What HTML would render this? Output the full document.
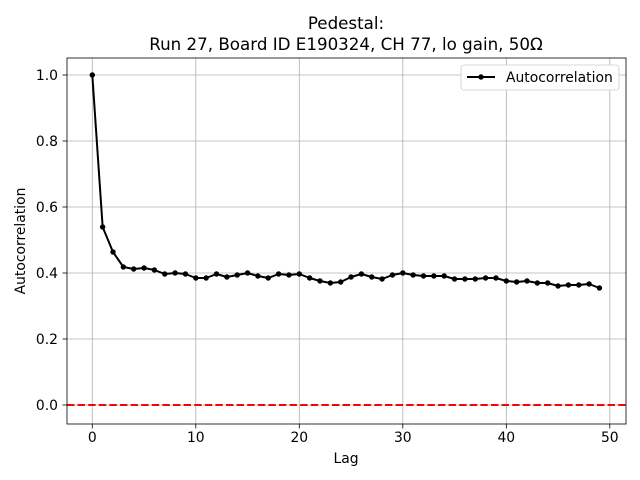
<!DOCTYPE html>
<html><head><meta charset="utf-8"><style>body{margin:0;background:#fff}svg{display:block;font-family:"DejaVu Sans","Liberation Sans",sans-serif}</style></head><body>
<svg width="640" height="480" viewBox="0 0 640 480" xmlns="http://www.w3.org/2000/svg">
<defs><marker id="dot" viewBox="-3 -3 6 6" refX="0" refY="0" markerWidth="6" markerHeight="6" markerUnits="userSpaceOnUse"><circle cx="0" cy="0" r="2.7" fill="#000"/></marker></defs>
<rect width="640" height="480" fill="#fff"/>
<g stroke="#b0b0b0" stroke-width="0.8">
<line x1="92.3" y1="58" x2="92.3" y2="424"/><line x1="195.8" y1="58" x2="195.8" y2="424"/><line x1="299.3" y1="58" x2="299.3" y2="424"/><line x1="402.8" y1="58" x2="402.8" y2="424"/><line x1="506.3" y1="58" x2="506.3" y2="424"/><line x1="609.8" y1="58" x2="609.8" y2="424"/>
<line x1="67" y1="405" x2="626" y2="405"/><line x1="67" y1="339" x2="626" y2="339"/><line x1="67" y1="273" x2="626" y2="273"/><line x1="67" y1="207" x2="626" y2="207"/><line x1="67" y1="141" x2="626" y2="141"/><line x1="67" y1="75" x2="626" y2="75"/>
</g>
<line x1="67" y1="405" x2="626" y2="405" stroke="#f00" stroke-width="2" stroke-dasharray="7.4,3.2"/>
<polyline fill="none" stroke="#000" stroke-width="2" stroke-linejoin="round" marker-start="url(#dot)" marker-mid="url(#dot)" marker-end="url(#dot)" points="92.3,75 102.65,227 113,252 123.35,267 133.7,269 144.05,268 154.4,270 164.75,274 175.1,273 185.45,274 195.8,278 206.15,278 216.5,274 226.85,277 237.2,275 247.55,273 257.9,276 268.25,278 278.6,274 288.95,275 299.3,274 309.65,278 320,281 330.35,283 340.7,282 351.05,277 361.4,274 371.75,277 382.1,279 392.45,275 402.8,273 413.15,275 423.5,276 433.85,276 444.2,276 454.55,279 464.9,279 475.25,279 485.6,278 495.95,278 506.3,281 516.65,282 527,281 537.35,283 547.7,283 558.05,286 568.4,285 578.75,285 589.1,284 599.45,288"/>
<rect x="67" y="58" width="559" height="366" fill="none" stroke="#000" stroke-width="0.8"/>
<g stroke="#000" stroke-width="0.8">
<line x1="92.3" y1="424" x2="92.3" y2="428.5"/><line x1="195.8" y1="424" x2="195.8" y2="428.5"/><line x1="299.3" y1="424" x2="299.3" y2="428.5"/><line x1="402.8" y1="424" x2="402.8" y2="428.5"/><line x1="506.3" y1="424" x2="506.3" y2="428.5"/><line x1="609.8" y1="424" x2="609.8" y2="428.5"/>
<line x1="62.5" y1="405" x2="67" y2="405"/><line x1="62.5" y1="339" x2="67" y2="339"/><line x1="62.5" y1="273" x2="67" y2="273"/><line x1="62.5" y1="207" x2="67" y2="207"/><line x1="62.5" y1="141" x2="67" y2="141"/><line x1="62.5" y1="75" x2="67" y2="75"/>
</g>
<g font-size="13.9" fill="#000" text-anchor="middle">
<text x="92.3" y="442">0</text><text x="195.8" y="442">10</text><text x="299.3" y="442">20</text><text x="402.8" y="442">30</text><text x="506.3" y="442">40</text><text x="609.8" y="442">50</text>
</g>
<g font-size="13.9" fill="#000" text-anchor="end">
<text x="58" y="410">0.0</text><text x="58" y="344">0.2</text><text x="58" y="278">0.4</text><text x="58" y="212">0.6</text><text x="58" y="146">0.8</text><text x="58" y="80">1.0</text>
</g>
<text x="346" y="463" font-size="13.9" text-anchor="middle">Lag</text>
<text x="25" y="241" font-size="13.9" text-anchor="middle" transform="rotate(-90 25 241)">Autocorrelation</text>
<text x="346" y="29" font-size="16.7" text-anchor="middle">Pedestal:</text>
<text x="346" y="50" font-size="16.7" text-anchor="middle">Run 27, Board ID E190324, CH 77, lo gain, 50Ω</text>
<rect x="461" y="65" width="158" height="25" rx="3" fill="#fff" stroke="#ccc" stroke-width="0.8"/>
<line x1="467" y1="77" x2="495" y2="77" stroke="#000" stroke-width="2"/><circle cx="481" cy="77" r="2.7"/>
<text x="506" y="82" font-size="13.9">Autocorrelation</text>
</svg>
</body></html>
